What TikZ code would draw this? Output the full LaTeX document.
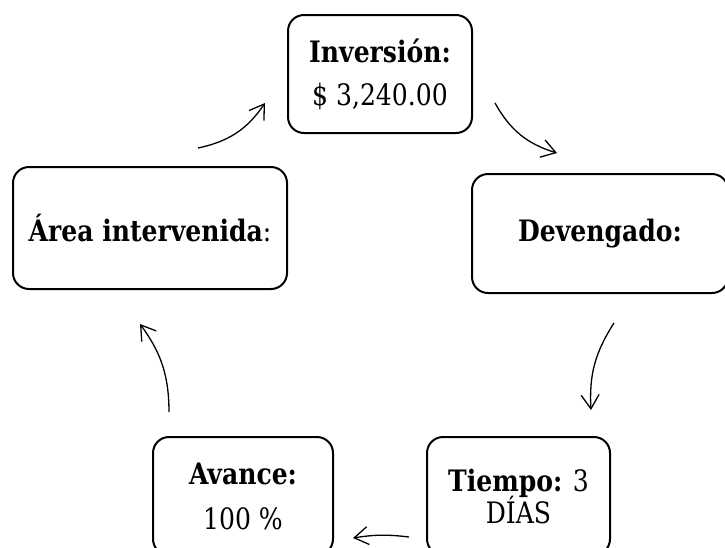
\documentclass[tikz,border=0pt]{standalone}
\usepackage{fontspec}
\setmainfont{DejaVu Serif}[FakeStretch=0.85]
\usetikzlibrary{arrows.meta}
\begin{document}
\begin{tikzpicture}[x=1pt,y=-1pt,
  box/.style={draw, line width=2pt, rounded corners=16pt, inner sep=0pt, align=center,
    font=\fontsize{29.5}{35.4}\selectfont},
  arr/.style={-{Straight Barb[length=14pt,width=18pt]}, line width=1.3pt}]
\useasboundingbox (0,0) rectangle (725,547);
\clip (0,0) rectangle (725,547);
% boxes
\node[box, minimum width=184pt, minimum height=118pt] (inv) at (380,74)
  {\textbf{Inversión:}\\[7.6pt]\$ 3,240.00};
\node[box, minimum width=256pt, minimum height=119pt] (dev) at (600,233.5)
  {\textbf{Devengado:}};
\node[box, minimum width=274pt, minimum height=122pt] (area) at (150,228)
  {\textbf{Área intervenida}:};
\node[box, minimum width=180pt, minimum height=118pt] (ava) at (243,496)
  {\textbf{Avance:}\\[9.6pt]100 \%};
\node[box, minimum width=183pt, minimum height=118pt] (tie) at (518.5,496)
  {\textbf{Tiempo:} 3\\[-3.4pt]DÍAS};
% arrow ends
\coordinate (a1s) at (198,148); \coordinate (a1e) at (265,103);
\coordinate (a2s) at (495,103); \coordinate (a2e) at (557,153);
\coordinate (a3s) at (614,323); \coordinate (a3e) at (591,410);
\coordinate (a4s) at (409,537); \coordinate (a4e) at (353,538);
\coordinate (a5s) at (169,412); \coordinate (a5e) at (140,324);
\draw[arr] (a1s) to[bend right=22] (a1e);
\draw[arr] (a2s) to[bend right=22] (a2e);
\draw[arr] (a3s) to[bend right=18] (a3e);
\draw[arr] (a4s) to[bend right=8] (a4e);
\draw[arr] (a5s) to[bend right=18] (a5e);
\end{tikzpicture}
\end{document}
